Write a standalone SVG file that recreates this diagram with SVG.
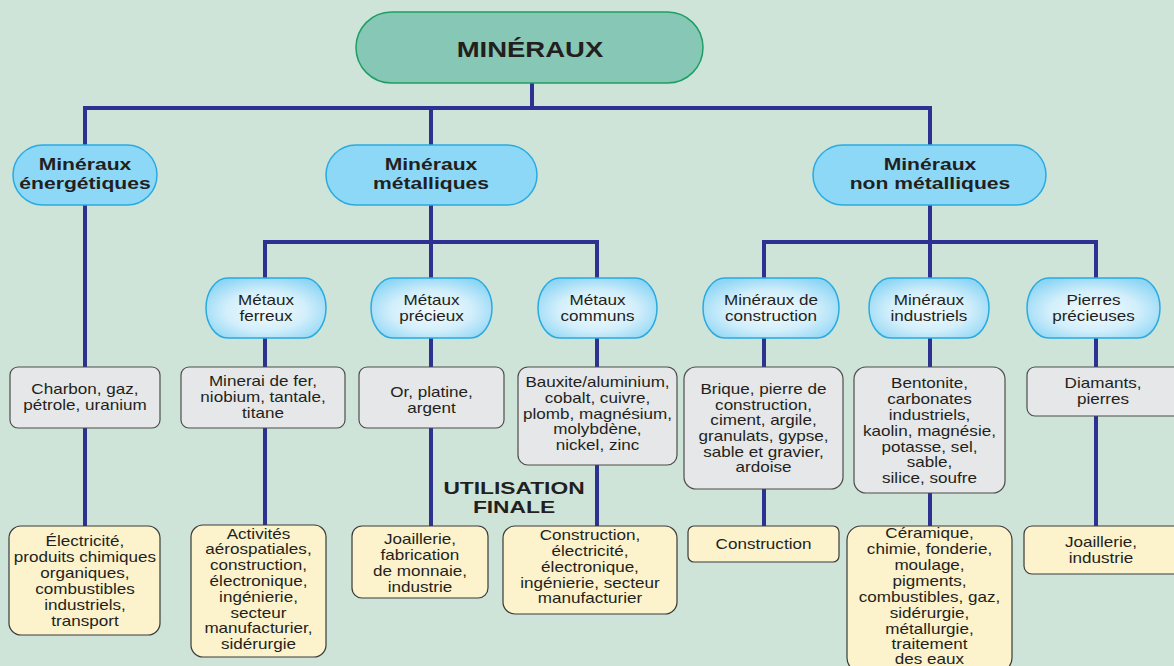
<svg xmlns="http://www.w3.org/2000/svg" width="1174" height="666" viewBox="0 0 1174 666">
<defs>
<radialGradient id="g3" cx="50%" cy="55%" r="60%">
<stop offset="0" stop-color="#f4fbfe"/>
<stop offset="0.55" stop-color="#d3effb"/>
<stop offset="1" stop-color="#8fd6f5"/>
</radialGradient>
<style>
.bg{fill:#cfe4d8}
.ln{fill:none;stroke:#2e3192;stroke-width:4}
.top{fill:#86c8b5;stroke:#1e9e64;stroke-width:1.5}
.p2{fill:#8dd8f7;stroke:#29abe2;stroke-width:1.5}
.p3{fill:url(#g3);stroke:#29abe2;stroke-width:1.5}
.gr{fill:#e6e7e8;stroke:#4d4d4d;stroke-width:1.2}
.ye{fill:#fcf2cc;stroke:#3a3a3a;stroke-width:1.2}
text{fill:#231f20;text-anchor:middle;font-family:"Liberation Sans",Arial,sans-serif;transform-box:fill-box;transform-origin:center}
.t1{font-size:22px;font-weight:bold;transform:scaleX(1.25)}
.t2{font-size:16.5px;font-weight:bold;transform:scaleX(1.28)}
.s{font-size:14px;transform:scaleX(1.22)}
.u{font-size:16.5px;font-weight:bold;transform:scaleX(1.38)}
</style>
</defs>
<rect class="bg" x="0" y="0" width="1174" height="666"/>
<g id="connectors">
<path class="ln" d="M532 83V108M85 145V108H930V145M431 108V145"/>
<path class="ln" d="M85 205V526"/>
<path class="ln" d="M431 205V242M265 278V242H597V278M431 242V278"/>
<path class="ln" d="M265 338V525M431 338V526M597 338V526"/>
<path class="ln" d="M930 205V242M764 278V242H1096V278M930 242V278"/>
<path class="ln" d="M764 338V526M930 338V526M1096 338V526"/>
</g>
<g id="mineraux"><rect class="top" x="356" y="12" width="347" height="71" rx="35.5"/><text class="t1" x="530" y="57">MINÉRAUX</text></g>
<g id="energetiques"><rect class="p2" x="13" y="145" width="144" height="60" rx="30"/><text class="t2" x="85" y="170">Minéraux<tspan x="85" y="189">énergétiques</tspan></text></g>
<g id="metalliques"><rect class="p2" x="326" y="145" width="211" height="60" rx="30"/><text class="t2" x="431" y="170">Minéraux<tspan x="431" y="189">métalliques</tspan></text></g>
<g id="non-metalliques"><rect class="p2" x="813" y="145" width="233" height="60" rx="30"/><text class="t2" x="930" y="170">Minéraux<tspan x="930" y="189">non métalliques</tspan></text></g>

<g id="ferreux"><rect class="p3" x="206" y="278" width="120" height="60" rx="22" ry="30"/><text class="s" x="266" y="305">Métaux<tspan x="266" y="321">ferreux</tspan></text></g>
<g id="precieux"><rect class="p3" x="371" y="278" width="121" height="60" rx="22" ry="30"/><text class="s" x="431.5" y="305">Métaux<tspan x="431.5" y="321">précieux</tspan></text></g>
<g id="communs"><rect class="p3" x="538" y="278" width="119" height="60" rx="22" ry="30"/><text class="s" x="597.5" y="305">Métaux<tspan x="597.5" y="321">communs</tspan></text></g>
<g id="construction"><rect class="p3" x="703" y="278" width="136" height="60" rx="22" ry="30"/><text class="s" x="771" y="305">Minéraux de<tspan x="771" y="321">construction</tspan></text></g>
<g id="industriels"><rect class="p3" x="869" y="278" width="120" height="60" rx="22" ry="30"/><text class="s" x="929" y="305">Minéraux<tspan x="929" y="321">industriels</tspan></text></g>
<g id="pierres"><rect class="p3" x="1027" y="278" width="133" height="60" rx="22" ry="30"/><text class="s" x="1093.5" y="305">Pierres<tspan x="1093.5" y="321">précieuses</tspan></text></g>

<g id="charbon"><rect class="gr" x="10" y="367" width="150" height="61" rx="8"/><text class="s" x="85" y="394">Charbon, gaz,<tspan x="85" y="410">pétrole, uranium</tspan></text></g>
<g id="minerai-fer"><rect class="gr" x="181" y="367" width="164" height="61" rx="8"/><text class="s" x="263" y="386">Minerai de fer,<tspan x="263" y="402">niobium, tantale,</tspan><tspan x="263" y="418">titane</tspan></text></g>
<g id="or-platine"><rect class="gr" x="359" y="367" width="145" height="61" rx="8"/><text class="s" x="431.5" y="397">Or, platine,<tspan x="431.5" y="413">argent</tspan></text></g>
<g id="bauxite"><rect class="gr" x="518" y="367" width="159" height="98" rx="10"/><text class="s" x="597.5" y="387">Bauxite/aluminium,<tspan x="597.5" y="403">cobalt, cuivre,</tspan><tspan x="597.5" y="419">plomb, magnésium,</tspan><tspan x="597.5" y="434">molybdène,</tspan><tspan x="597.5" y="450">nickel, zinc</tspan></text></g>
<g id="brique"><rect class="gr" x="684" y="367" width="159" height="122" rx="12"/><text class="s" x="763.5" y="394">Brique, pierre de<tspan x="763.5" y="410">construction,</tspan><tspan x="763.5" y="425">ciment, argile,</tspan><tspan x="763.5" y="441">granulats, gypse,</tspan><tspan x="763.5" y="457">sable et gravier,</tspan><tspan x="763.5" y="472">ardoise</tspan></text></g>
<g id="bentonite"><rect class="gr" x="854" y="367" width="151" height="126" rx="12"/><text class="s" x="929.5" y="388">Bentonite,<tspan x="929.5" y="404">carbonates</tspan><tspan x="929.5" y="420">industriels,</tspan><tspan x="929.5" y="436">kaolin, magnésie,</tspan><tspan x="929.5" y="452">potasse, sel,</tspan><tspan x="929.5" y="467">sable,</tspan><tspan x="929.5" y="483">silice, soufre</tspan></text></g>
<g id="diamants"><rect class="gr" x="1027" y="367" width="156" height="49" rx="8"/><text class="s" x="1103" y="388">Diamants,<tspan x="1103" y="404">pierres</tspan></text></g>

<g id="utilisation-finale"><text class="u" x="514" y="494">UTILISATION<tspan x="514" y="513">FINALE</tspan></text></g>

<g id="electricite"><rect class="ye" x="9" y="526" width="151" height="109" rx="12"/><text class="s" x="85" y="546">Électricité,<tspan x="85" y="562">produits chimiques</tspan><tspan x="85" y="578">organiques,</tspan><tspan x="85" y="594">combustibles</tspan><tspan x="85" y="610">industriels,</tspan><tspan x="85" y="626">transport</tspan></text></g>
<g id="activites"><rect class="ye" x="191" y="525" width="135" height="132" rx="12"/><text class="s" x="258.5" y="539">Activités<tspan x="258.5" y="554">aérospatiales,</tspan><tspan x="258.5" y="570">construction,</tspan><tspan x="258.5" y="586">électronique,</tspan><tspan x="258.5" y="602">ingénierie,</tspan><tspan x="258.5" y="618">secteur</tspan><tspan x="258.5" y="633">manufacturier,</tspan><tspan x="258.5" y="649">sidérurgie</tspan></text></g>
<g id="joaillerie-monnaie"><rect class="ye" x="352" y="526" width="136" height="72" rx="10"/><text class="s" x="420" y="544">Joaillerie,<tspan x="420" y="560">fabrication</tspan><tspan x="420" y="576">de monnaie,</tspan><tspan x="420" y="592">industrie</tspan></text></g>
<g id="construction-electricite"><rect class="ye" x="503" y="526" width="174" height="88" rx="12"/><text class="s" x="590" y="540">Construction,<tspan x="590" y="556">électricité,</tspan><tspan x="590" y="572">électronique,</tspan><tspan x="590" y="588">ingénierie, secteur</tspan><tspan x="590" y="603">manufacturier</tspan></text></g>
<g id="construction-usage"><rect class="ye" x="688" y="526" width="151" height="36" rx="6"/><text class="s" x="763.5" y="549">Construction</text></g>
<g id="ceramique"><rect class="ye" x="847" y="526" width="165" height="146" rx="14"/><text class="s" x="929.5" y="538">Céramique,<tspan x="929.5" y="554">chimie, fonderie,</tspan><tspan x="929.5" y="570">moulage,</tspan><tspan x="929.5" y="586">pigments,</tspan><tspan x="929.5" y="602">combustibles, gaz,</tspan><tspan x="929.5" y="618">sidérurgie,</tspan><tspan x="929.5" y="634">métallurgie,</tspan><tspan x="929.5" y="649">traitement</tspan><tspan x="929.5" y="664">des eaux</tspan></text></g>
<g id="joaillerie-industrie"><rect class="ye" x="1024" y="526" width="159" height="48" rx="8"/><text class="s" x="1101" y="547">Joaillerie,<tspan x="1101" y="563">industrie</tspan></text></g>
</svg>
